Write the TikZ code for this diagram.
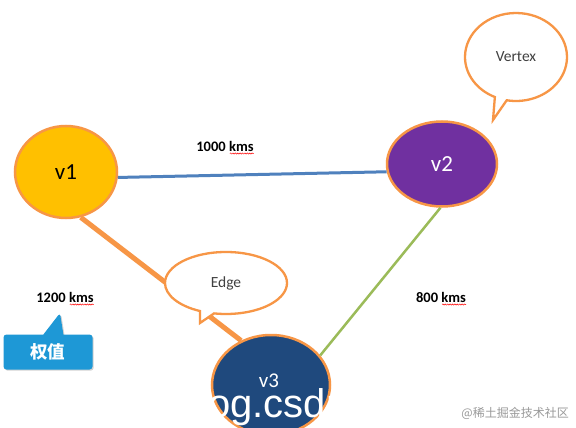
\documentclass[tikz,border=0pt]{standalone}
\usepackage{fontspec}
\setmainfont{Carlito}
\newfontfamily\cjk{Noto Sans CJK SC}
\newfontfamily\wmfont{Liberation Sans}
\usetikzlibrary{shapes.geometric,shapes.callouts,shadows,decorations.pathmorphing}
\definecolor{vorange}{HTML}{F79646}
\definecolor{vyellow}{HTML}{FFC000}
\definecolor{vpurple}{HTML}{7030A0}
\definecolor{vnavy}{HTML}{1F497D}
\definecolor{eblue}{HTML}{4F81BD}
\definecolor{egreen}{HTML}{9BBB59}
\definecolor{cblue}{HTML}{1E98D6}
\definecolor{tgray}{HTML}{404040}
\begin{document}
\begin{tikzpicture}[x=1pt,y=-1pt,
  vertex/.style={ellipse,draw=vorange,line width=2.5pt,inner sep=0pt,font=\fontsize{23}{26}\selectfont},
  weight/.style={font=\fontsize{14.5}{17}\selectfont\bfseries,inner sep=0pt},
  squig/.style={red,line width=0.5pt,decorate,decoration={snake,amplitude=0.6pt,segment length=2.4pt}},
  bubble/.style={ellipse callout,draw=vorange,line width=2.3pt,fill=white,text=tgray,font=\fontsize{15.5}{18}\selectfont,callout pointer arc=14}]
\useasboundingbox (0,0) rectangle (576,428);
\fill[white] (0,0) rectangle (576,428);

% vertices
\node[vertex,fill=vyellow,minimum width=102pt,minimum height=92pt] (v1) at (66,172) {v1};
\node[vertex,fill=vpurple,text=white,minimum width=110pt,minimum height=85pt] (v2) at (442,164) {v2};
\node[vertex,fill=vnavy,text=white,minimum width=118pt,minimum height=100pt] (v3) at (271,385) {};
\node[font=\fontsize{21}{24}\selectfont,text=white] (v3t) at (269,381) {v3};

% edges
\draw[eblue,line width=3pt] (v1.-6) -- (v2.188);
\draw[vorange,line width=5pt] (v1.-72) -- (v3.124);
\draw[egreen,line width=2.5pt] (v2.-92) -- (v3.31);

% callouts
\node[bubble,minimum width=122pt,minimum height=62pt,callout absolute pointer={(200,323)}] (edgeb) at (226,283) {Edge};
\node[bubble,minimum width=102pt,minimum height=88pt,callout absolute pointer={(493,120)}] (vertb) at (516,57) {Vertex};
\node[rectangle callout,fill=cblue,rounded corners=3pt,minimum width=89pt,minimum height=35pt,
  callout absolute pointer={(60,313)},callout pointer width=20pt,
  drop shadow={shadow xshift=1.2pt,shadow yshift=-1.2pt,opacity=0.35},
  text=white,font=\cjk\bfseries\fontsize{17.5}{19}\selectfont] (qz) at (48,352) {权值};

% weights
\node[weight] (w1) at (225,146) {1000 kms};
\node[weight] (w2) at (65,297) {1200 kms};
\node[weight] (w3) at (441,297) {800 kms};
\foreach \w in {w1,w2,w3}
  \draw[squig] ([xshift=-24pt,yshift=-2.5pt]\w.base east) -- ([yshift=-2.5pt]\w.base east);

% watermarks
\node[anchor=base west,inner sep=0pt,text=white,font=\wmfont\fontsize{40}{40}\selectfont] (wm1) at (177,417) {blog.csdn};
\node[anchor=east,inner sep=0pt,text=gray!80,font=\cjk\fontsize{12}{14}\selectfont] (wm2) at (569,413) {@稀土掘金技术社区};
\end{tikzpicture}
\end{document}
